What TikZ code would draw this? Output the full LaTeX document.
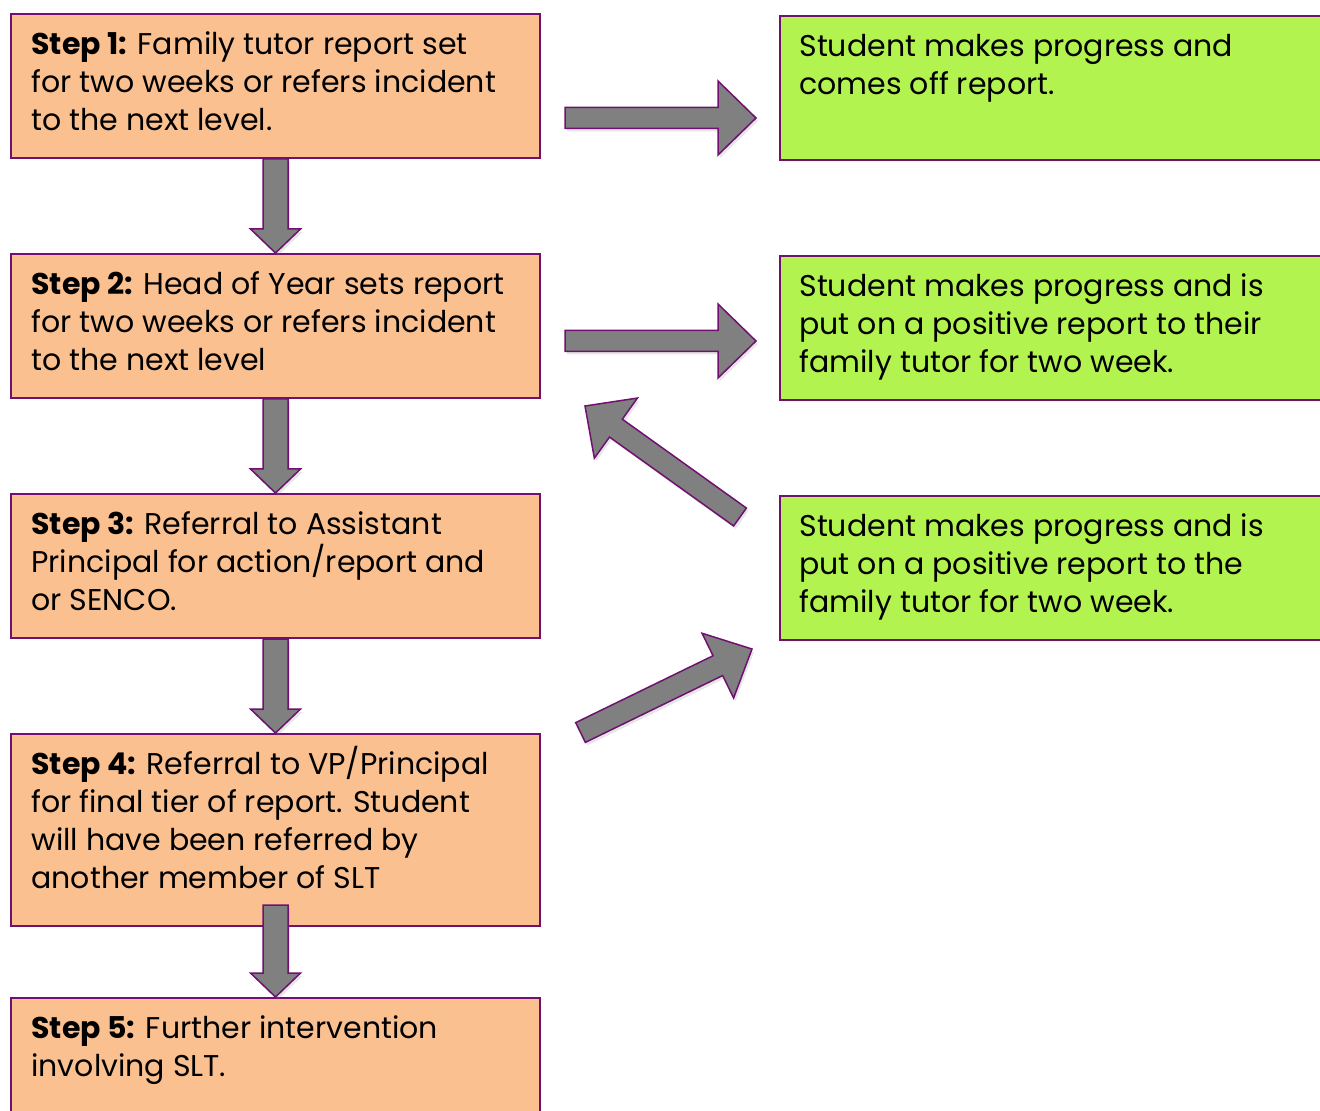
\documentclass[tikz,border=0pt]{standalone}
\usepackage{fontspec}
\setmainfont{Poppins}
\usetikzlibrary{calc,shadows}

\definecolor{boxline}{RGB}{112,16,112}
\definecolor{stepfill}{RGB}{250,192,144}
\definecolor{outfill}{RGB}{178,243,80}
\definecolor{arrowfill}{RGB}{128,128,128}

\newcommand\tightlines{\lineskiplimit=-20pt\relax}
\newcommand\firstline{\vphantom{/}}

\tikzset{
    stepbox/.style={rectangle,draw=boxline,line width=1pt,fill=stepfill,minimum width=264.5pt,inner sep=0pt,anchor=north west},
    outbox/.style={rectangle,draw=boxline,line width=1pt,fill=outfill,minimum width=300pt,minimum height=72pt,inner sep=0pt,anchor=north west},
    boxtext/.style={anchor=north west,inner sep=0pt,align=left,font={\fontsize{15}{19}\selectfont\tightlines}},
    blockarrow/.style={draw=boxline,line width=0.75pt,fill=arrowfill,line join=miter,
        drop shadow={opacity=0.2,shadow xshift=1pt,shadow yshift=-1.5pt}}
}

% from, to, half shaft, half head, head length
\newcommand\blockarrow[5]{%
    \coordinate (neck) at ($(#2)!#5!(#1)$);
    \draw[blockarrow] ($(#1)!#3!90:(#2)$) -- ($(neck)!#3!90:(#2)$) -- ($(neck)!#4!90:(#2)$)
        -- (#2) -- ($(neck)!#4!-90:(#2)$) -- ($(neck)!#3!-90:(#2)$) -- ($(#1)!#3!-90:(#2)$) -- cycle;
}

\begin{document}
\begin{tikzpicture}[x=0.5pt,y=-0.5pt]
    \useasboundingbox (0,0) rectangle (1320,1111);
    \clip (0,0) rectangle (1320,1111);

    % steps
    \node[stepbox,minimum height=72pt] (s1) at (10,13) {};
    \node[stepbox,minimum height=72pt] (s2) at (10,253) {};
    \node[stepbox,minimum height=72pt] (s3) at (10,493) {};
    \node[stepbox,minimum height=96pt] (s4) at (10,733) {};
    \node[stepbox,minimum height=80pt] (s5) at (10,997) {};

    \node[boxtext] (t1) at ($(s1.north west)+(21,13)$) {\firstline\textbf{Step 1:} Family tutor report set\\for two weeks or refers incident\\to the next level.};
    \node[boxtext] (t2) at ($(s2.north west)+(21,13)$) {\firstline\textbf{Step 2:} Head of Year sets report\\for two weeks or refers incident\\to the next level};
    \node[boxtext] (t3) at ($(s3.north west)+(21,13)$) {\firstline\textbf{Step 3:} Referral to Assistant\\Principal for action/report and\\or SENCO.};
    \node[boxtext] (t4) at ($(s4.north west)+(21,13)$) {\firstline\textbf{Step 4:} Referral to VP/Principal\\for final tier of report. Student\\will have been referred by\\another member of SLT};
    \node[boxtext] (t5) at ($(s5.north west)+(21,13)$) {\firstline\textbf{Step 5:} Further intervention\\involving SLT.};

    % outcomes
    \node[outbox] (g1) at (779,15) {};
    \node[outbox] (g2) at (779,255) {};
    \node[outbox] (g3) at (779,495) {};

    \node[boxtext] (u1) at ($(g1.north west)+(20,13)$) {\firstline Student makes progress and\\comes off report.};
    \node[boxtext] (u2) at ($(g2.north west)+(20,13)$) {\firstline Student makes progress and is\\put on a positive report to their\\family tutor for two week.};
    \node[boxtext] (u3) at ($(g3.north west)+(20,13)$) {\firstline Student makes progress and is\\put on a positive report to the\\family tutor for two week.};

    % arrows
    \blockarrow{s1.south}{s2.north}{6.25pt}{12.5pt}{12pt}
    \blockarrow{s2.south}{s3.north}{6.25pt}{12.5pt}{12pt}
    \blockarrow{s3.south}{s4.north}{6.25pt}{12.5pt}{12pt}
    \coordinate (d4) at ($(s4.south)+(0,-22)$);
    \blockarrow{d4}{s5.north}{6.25pt}{12.5pt}{12pt}

    \coordinate (r1a) at ($(s1.north east)+(24,105)$);
    \coordinate (r1b) at ($(g1.north west)+(-23,103)$);
    \blockarrow{r1a}{r1b}{5.25pt}{18.5pt}{19pt}
    \coordinate (r2a) at ($(s2.north east)+(24,88)$);
    \coordinate (r2b) at ($(g2.north west)+(-23,86)$);
    \blockarrow{r2a}{r2b}{5.25pt}{18.5pt}{19pt}

    \coordinate (b3a) at ($(g3.north west)+(-39,22)$);
    \coordinate (b3b) at ($(s2.south east)+(44,7)$);
    \blockarrow{b3a}{b3b}{5.5pt}{18.5pt}{19pt}
    \coordinate (b4a) at ($(s4.north east)+(39.5,-0.5)$);
    \coordinate (b4b) at ($(g3.south west)+(-27,8)$);
    \blockarrow{b4a}{b4b}{5.5pt}{18pt}{19pt}
\end{tikzpicture}
\end{document}
